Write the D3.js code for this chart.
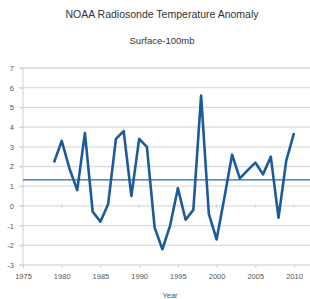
<!DOCTYPE html>
<html lang="en">
<head>
<meta charset="UTF-8">
<title>NOAA Radiosonde Temperature Anomaly</title>
<script src="https://cdn.jsdelivr.net/npm/d3@7"></script>
<style>
  body { margin: 0; background: #fff; }
  svg { font-family: "Liberation Sans", Arial, sans-serif; }
  .grid line { stroke: #dcdcdc; stroke-width: 1.3px; }
  .axis text { fill: #555; font-size: 7.5px; }
  .axis path, .axis line { stroke: #d0d0d0; }
  .series { fill: none; stroke: #1d5a9a; stroke-width: 2.6px; stroke-linejoin: round; }
  .mean { stroke: #2a68a6; stroke-width: 1.4px; }
</style>
</head>
<body>
<script>
// values
var years = [1979, 1980, 1981, 1982, 1983, 1984, 1985, 1986, 1987, 1988,
             1989, 1990, 1991, 1992, 1993, 1994, 1995, 1996, 1997, 1998,
             1999, 2000, 2001, 2002, 2003, 2004, 2005, 2006, 2007, 2008,
             2009, 2010];
var anomaly = [2.2, 3.3, 1.9, 0.8, 3.7, -0.3, -0.8, 0.1, 3.4, 3.8,
               0.5, 3.4, 3.0, -1.1, -2.2, -1.0, 0.9, -0.7, -0.2, 5.6,
               -0.4, -1.7, 0.4, 2.6, 1.4, 1.8, 2.2, 1.6, 2.5, -0.6,
               2.3, 3.7];
var meanLevel = 1.32;
var xTicks = [1975, 1980, 1985, 1990, 1995, 2000, 2005, 2010];
var yTicks = [7, 6, 5, 4, 3, 2, 1, 0, -1, -2, -3];

var width = 310, height = 299;

var x = d3.scaleLinear().domain([1975, 2012]).range([23, 309.5]);
var y = d3.scaleLinear().domain([-3, 7]).range([265, 68]);

var svg = d3.select("body").append("svg")
    .attr("width", width)
    .attr("height", height);

// titles
svg.append("text")
    .attr("x", 162).attr("y", 18)
    .attr("text-anchor", "middle")
    .style("font-size", "10.5px").style("fill", "#333")
    .text("NOAA Radiosonde Temperature Anomaly");
svg.append("text")
    .attr("x", 162).attr("y", 44)
    .attr("text-anchor", "middle")
    .style("font-size", "9.5px").style("fill", "#333")
    .text("Surface-100mb");

// horizontal grid
svg.append("g")
    .attr("class", "grid")
    .selectAll("line")
    .data(yTicks)
    .enter().append("line")
    .attr("x1", 19).attr("x2", width)
    .attr("y1", function(d) { return y(d); })
    .attr("y2", function(d) { return y(d); });

// y axis
var yAxis = svg.append("g")
    .attr("class", "axis")
    .attr("transform", "translate(23,0)")
    .call(d3.axisLeft(y).tickValues(yTicks).tickSize(3).tickPadding(6)
        .tickFormat(function(d) { return String(d); }));
yAxis.select(".domain").attr("d", "M0," + y(7) + "V" + y(-3));

// x axis: tick marks on the zero line, labels under the plot
var xAxis = svg.append("g")
    .attr("class", "axis")
    .attr("transform", "translate(0," + y(-3) + ")")
    .call(d3.axisBottom(x).tickValues(xTicks).tickSize(3).tickPadding(6)
        .tickFormat(d3.format("d")));
xAxis.select(".domain").remove();

svg.append("g")
    .selectAll("line")
    .data(xTicks.slice(1))
    .enter().append("line")
    .attr("x1", function(d) { return x(d); })
    .attr("x2", function(d) { return x(d); })
    .attr("y1", y(0) - 1.5).attr("y2", y(0) + 1.5)
    .attr("stroke", "#cfcfcf");

svg.append("text")
    .attr("x", 170).attr("y", 298)
    .attr("text-anchor", "middle")
    .style("font-size", "7.5px").style("fill", "#555")
    .text("Year");

// mean line
svg.append("line")
    .attr("class", "mean")
    .attr("x1", 23).attr("x2", width)
    .attr("y1", y(meanLevel)).attr("y2", y(meanLevel));

// anomaly series
var line = d3.line()
    .x(function(d, i) { return x(years[i]); })
    .y(function(d) { return y(d); });

svg.append("path")
    .datum(anomaly)
    .attr("class", "series")
    .attr("d", line);
</script>
</body>
</html>
